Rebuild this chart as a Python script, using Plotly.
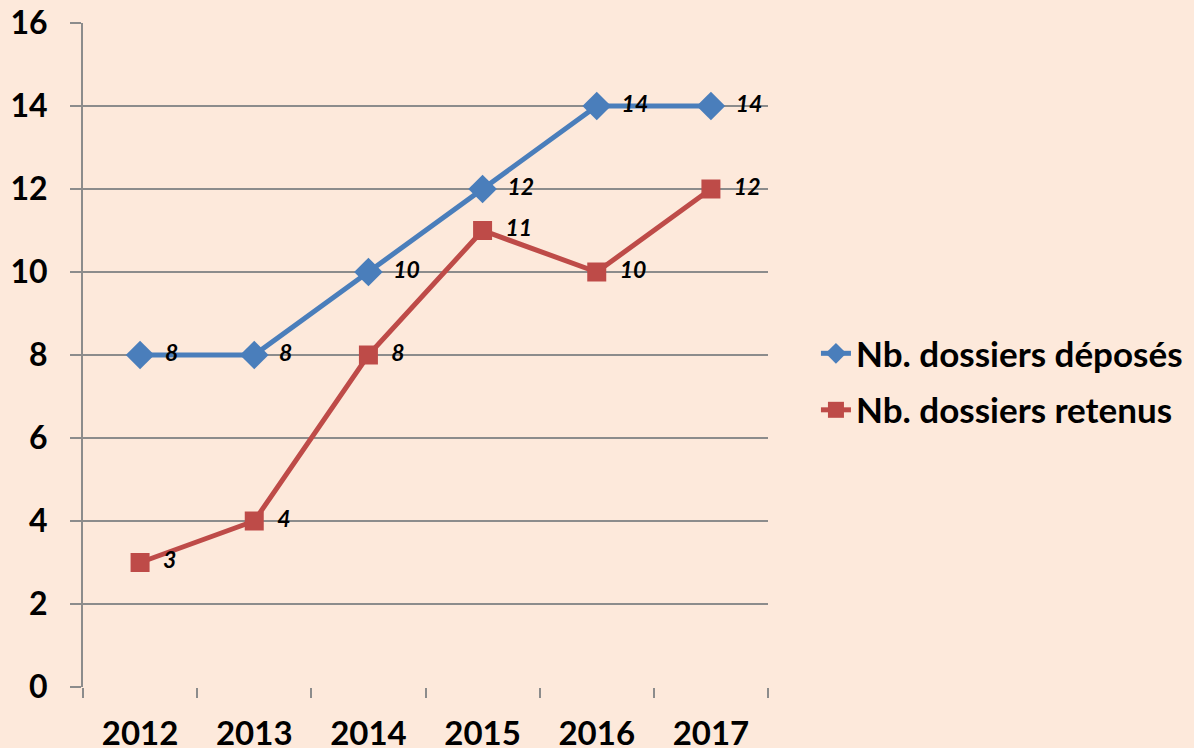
import plotly.graph_objects as go

years = ["2012", "2013", "2014", "2015", "2016", "2017"]
deposes = [8, 8, 10, 12, 14, 14]
retenus = [3, 4, 8, 11, 10, 12]
series_names = ["Nb. dossiers déposés", "Nb. dossiers retenus"]

BG = "#FDE9DB"
GRID = "#8C8C8C"
FONT = "Lato"
NB = "\u00a0"

fig = go.Figure()
fig.add_trace(go.Scatter(
    x=years, y=deposes, name=series_names[0], mode="lines+markers+text",
    legendgroup="a",
    line=dict(color="#4A7EBB", width=5),
    marker=dict(symbol="diamond", size=22, color="#4A7EBB"),
    text=[NB * 2 + str(v) for v in deposes], textposition="middle right",
    textfont=dict(family=FONT, size=23, color="black", weight="bold", style="italic"),
    cliponaxis=False,
))
fig.add_trace(go.Scatter(
    x=years, y=retenus, name=series_names[1], mode="lines+markers+text",
    legendgroup="b",
    line=dict(color="#BE4B48", width=5),
    marker=dict(symbol="square", size=19, color="#BE4B48"),
    text=[NB * 2 + str(v) for v in retenus], textposition="middle right",
    textfont=dict(family=FONT, size=23, color="black", weight="bold", style="italic"),
    cliponaxis=False,
))

fig.update_layout(
    width=1194, height=748,
    paper_bgcolor=BG, plot_bgcolor=BG,
    margin=dict(l=83, r=426, t=23, b=61, autoexpand=False),
    font=dict(family=FONT, color="black"),
    showlegend=True,
    legend=dict(x=1.07, y=0.46, xanchor="left", yanchor="middle",
                font=dict(family=FONT, size=35, color="black", weight="bold"),
                bgcolor="rgba(0,0,0,0)", tracegroupgap=8, itemwidth=30),
    xaxis=dict(
        type="category", range=[-0.5, 5.5], autorange=False,
        tickson="boundaries", ticks="outside", ticklen=10,
        tickcolor=GRID, tickwidth=2, showgrid=False, showline=False, automargin=False,
        tickfont=dict(family=FONT, size=33, color="black", weight="bold"),
        ticklabelstandoff=24,
    ),
    yaxis=dict(
        range=[0, 16], dtick=2, ticks="outside", ticklen=11, tickcolor=GRID, tickwidth=2,
        showgrid=True, gridcolor=GRID, gridwidth=2, automargin=False,
        showline=True, linecolor=GRID, linewidth=2, zeroline=False,
        tickfont=dict(family=FONT, size=32, color="black", weight="bold"),
        ticklabelstandoff=16,
    ),
)

fig.write_html("out.html", config={"displayModeBar": False},
               post_script="document.body.style.margin='0';document.body.style.padding='0';")
